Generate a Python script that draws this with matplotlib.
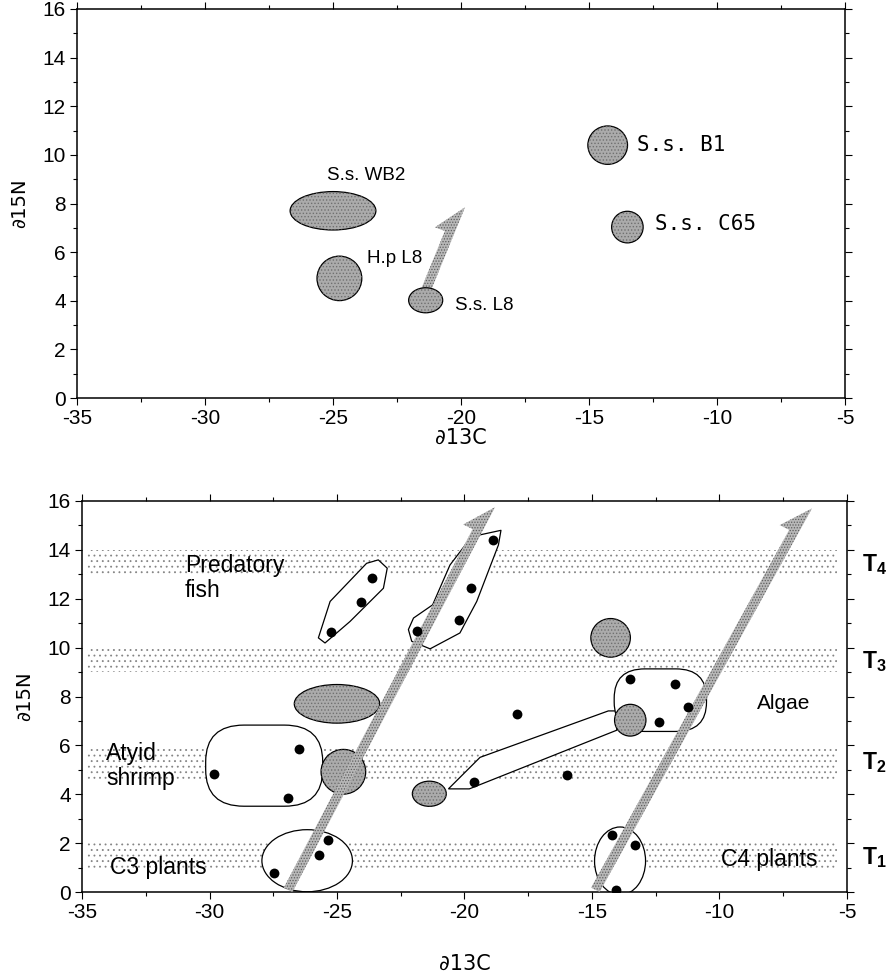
import matplotlib
matplotlib.use('Agg')
import matplotlib.pyplot as plt
from matplotlib.patches import Ellipse, FancyArrow, Polygon, FancyBboxPatch, Rectangle
from matplotlib.ticker import MultipleLocator

plt.rcParams['font.family'] = ['Liberation Sans', 'DejaVu Sans']
plt.rcParams['hatch.linewidth'] = 0.6
plt.rcParams['mathtext.fontset'] = 'custom'
plt.rcParams['mathtext.bf'] = 'Liberation Sans:bold'
plt.rcParams['mathtext.rm'] = 'Liberation Sans'

# ---------------- data ----------------
group_names = ['S.s. WB2', 'H.p L8', 'S.s. L8', 'S.s. B1', 'S.s. C65']
group_x = [-25.0, -24.75, -21.38, -14.27, -13.5]
group_y = [7.7, 4.92, 4.02, 10.4, 7.03]
group_w = [3.35, 1.75, 1.33, 1.55, 1.23]
group_h = [1.58, 1.83, 1.03, 1.58, 1.3]

top_label_x = [-23.7, -23.68, -20.25, -13.11, -12.42]
top_label_y = [9.16, 5.75, 3.81, 10.4, 7.15]
top_label_mono = [False, False, False, True, True]

# food-chain arrows (tail x, tail y, head x, head y)
top_arrow = (-21.3, 4.1, -19.84, 7.85)
bottom_arrows = [(-26.75, 0.0, -18.8, 15.75), (-14.7, 0.0, -6.37, 15.7)]

# trophic level bands (y low, y high) and labels
band_lo = [1.0, 4.6, 9.0, 13.0]
band_hi = [2.0, 5.9, 10.0, 14.0]
trophic_labels = [r'$\mathbf{T_1}$', r'$\mathbf{T_2}$', r'$\mathbf{T_3}$', r'$\mathbf{T_4}$']
trophic_y = [1.4, 5.3, 9.45, 13.4]

# individual samples
dot_x = [-23.63, -24.06, -25.24, -21.87, -20.22, -19.75, -18.9,
         -29.81, -26.5, -26.93, -27.47, -25.69, -25.37,
         -13.51, -11.75, -11.25, -12.36, -17.93, -15.99, -19.61,
         -14.23, -13.31, -14.06]
dot_y = [12.83, 11.85, 10.63, 10.69, 11.14, 12.43, 14.4,
         4.83, 5.85, 3.84, 0.79, 1.53, 2.12,
         8.7, 8.52, 7.55, 6.94, 7.27, 4.8, 4.49,
         2.35, 1.91, 0.08]

# group outlines
fish1_x = [-25.73, -25.27, -23.84, -23.38, -23.03, -23.18, -24.49, -25.47]
fish1_y = [10.4, 11.89, 13.45, 13.59, 13.25, 12.43, 11.07, 10.19]
fish2_x = [-22.2, -22.0, -21.25, -20.57, -19.72, -18.57, -18.67, -19.52, -20.18, -21.35, -22.07]
fish2_y = [10.74, 11.21, 11.75, 13.38, 14.54, 14.8, 14.2, 11.89, 10.6, 9.95, 10.26]
link_x = [-20.63, -19.39, -14.36, -14.03, -14.03, -19.81]
link_y = [4.22, 5.51, 7.41, 7.41, 6.62, 4.22]
atyid_box = (-30.15, 3.51, 4.59, 3.32)
algae_box = (-14.13, 6.57, 3.62, 2.56)
c3_ell = (-26.17, 1.28, 3.55, 2.54)
c4_ell = (-13.9, 1.27, 2.0, 2.78)

area_labels = ['Predatory\nfish', 'Atyid\nshrimp', 'C3 plants', 'Algae', 'C4 plants']
area_x = [-30.96, -34.06, -33.9, -8.55, -9.95]
area_y = [12.86, 5.14, 1.02, 7.7, 1.34]
area_size = [16.5, 16.5, 16.5, 15, 16.5]

# ---------------- figure ----------------
fig = plt.figure(figsize=(8.87, 9.77), dpi=100)
ax1 = fig.add_axes([77/887, 1-398/977, (845-77)/887, (398-9)/977])
ax2 = fig.add_axes([82/887, 1-892/977, (847-82)/887, (892-501)/977])

GREY = '#ababab'


def style_axes(ax):
    ax.set_xlim(-35, -5)
    ax.set_ylim(0, 16)
    ax.xaxis.set_major_locator(MultipleLocator(5))
    ax.xaxis.set_minor_locator(MultipleLocator(2.5))
    ax.yaxis.set_major_locator(MultipleLocator(2))
    ax.yaxis.set_minor_locator(MultipleLocator(1))
    ax.tick_params(which='both', direction='out', top=True, right=True,
                   labeltop=False, labelright=False, width=0.8)
    ax.tick_params(which='major', length=5, labelsize=15, pad=3)
    ax.tick_params(which='minor', length=3)
    ax.set_xticklabels([str(int(v)) for v in ax.get_xticks()])
    for s in ax.spines.values():
        s.set_linewidth(1.1)
    ax.set_xlabel('∂13C', fontsize=15, family=['DejaVu Sans'])
    ax.set_ylabel('∂15N', fontsize=14, family=['DejaVu Sans'])


def shaded_ellipse(ax, x, y, w, h):
    ax.add_patch(Ellipse((x, y), w, h, facecolor=GREY, edgecolor='black', lw=0.9, zorder=3))
    ax.add_patch(Ellipse((x, y), w, h, facecolor='none', edgecolor='#707070',
                         hatch='.....', lw=0, zorder=3.1))


def grey_arrow(ax, x0, y0, x1, y1, z):
    kw = dict(width=0.76, head_width=1.6, head_length=1.2, shape='right',
              length_includes_head=True)
    ax.add_patch(FancyArrow(x0, y0, x1-x0, y1-y0, facecolor='#b8b8b8', edgecolor='none',
                            lw=0, zorder=z, **kw))
    ax.add_patch(FancyArrow(x0, y0, x1-x0, y1-y0, facecolor='none', edgecolor='#5e5e5e',
                            hatch='......', lw=0, zorder=z+0.1, **kw))


# ---------- top panel ----------
style_axes(ax1)
ax1.xaxis.labelpad = 0
ax1.yaxis.labelpad = 10
grey_arrow(ax1, *top_arrow, z=2)
for i in range(len(group_names)):
    shaded_ellipse(ax1, group_x[i], group_y[i], group_w[i], group_h[i])
    if top_label_mono[i]:
        ax1.text(top_label_x[i], top_label_y[i], group_names[i], ha='left', va='center',
                 fontsize=15, family=['DejaVu Sans Mono'])
    else:
        ax1.text(top_label_x[i], top_label_y[i], group_names[i],
                 ha='center' if i == 0 else 'left', va='center', fontsize=13.5)

# ---------- bottom panel ----------
style_axes(ax2)
ax2.xaxis.labelpad = 23
ax2.yaxis.labelpad = 10

for lo, hi in zip(band_lo, band_hi):
    ax2.add_patch(Rectangle((-34.8, lo), 29.4, hi-lo, facecolor='none', edgecolor='#858585',
                            hatch='...', lw=0, zorder=1))

outline = dict(facecolor='white', edgecolor='black', lw=0.9, zorder=2)
ax2.add_patch(Polygon(list(zip(fish1_x, fish1_y)), closed=True, joinstyle='round', **outline))
ax2.add_patch(Polygon(list(zip(fish2_x, fish2_y)), closed=True, joinstyle='round', **outline))
ax2.add_patch(Polygon(list(zip(link_x, link_y)), closed=True, **outline))
ax2.add_patch(FancyBboxPatch(atyid_box[:2], atyid_box[2], atyid_box[3],
                             boxstyle='round,pad=0,rounding_size=1.5', **outline))
ax2.add_patch(FancyBboxPatch(algae_box[:2], algae_box[2], algae_box[3],
                             boxstyle='round,pad=0,rounding_size=1.2', **outline))
ax2.add_patch(Ellipse(c3_ell[:2], c3_ell[2], c3_ell[3], **outline))
ax2.add_patch(Ellipse(c4_ell[:2], c4_ell[2], c4_ell[3], **outline))

for i in range(len(group_names)):
    shaded_ellipse(ax2, group_x[i], group_y[i], group_w[i], group_h[i])

for a in bottom_arrows:
    grey_arrow(ax2, *a, z=4)

ax2.scatter(dot_x, dot_y, s=50, color='black', zorder=5, linewidths=0)

for t, x, y, fs in zip(area_labels, area_x, area_y, area_size):
    ax2.text(x, y, t, ha='left', va='center', fontsize=fs, linespacing=1.1, zorder=6)

for t, y in zip(trophic_labels, trophic_y):
    ax2.text(-4.4, y, t, ha='left', va='center', fontsize=16.5, clip_on=False)

fig.savefig('out.png', dpi=100)
